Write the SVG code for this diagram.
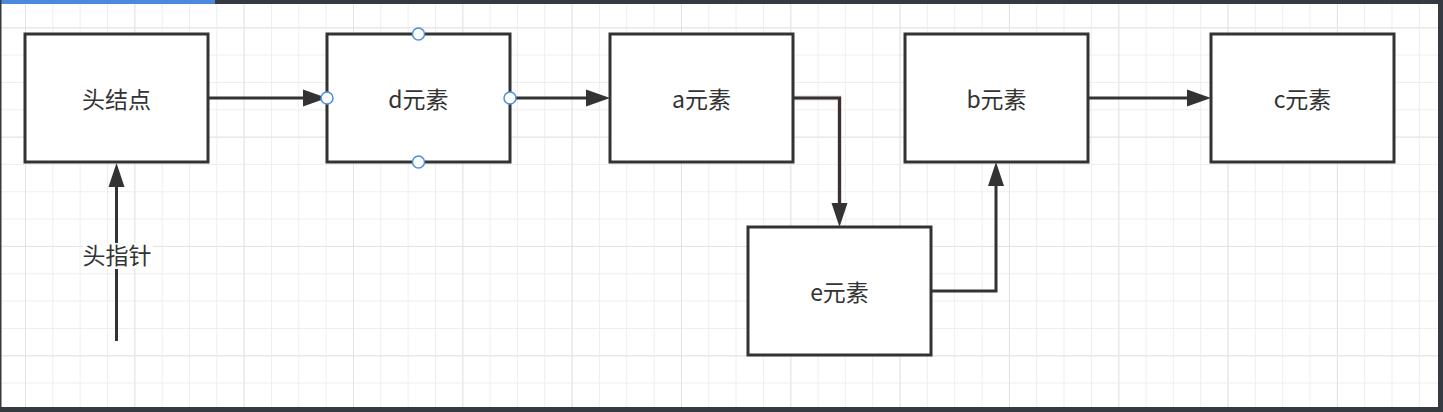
<svg xmlns="http://www.w3.org/2000/svg" width="1443" height="412" viewBox="0 0 1443 412">
<style>
.box{fill:#ffffff;stroke:#333333;stroke-width:3}
.lbl{font-family:"Noto Sans CJK SC","Liberation Sans",sans-serif;font-size:23px;fill:#333333;text-anchor:middle}
.edge{fill:none;stroke:#333333;stroke-width:3}
.head{fill:#333333;stroke:none}
.pt{fill:#ffffff;stroke:#4a90e2;stroke-width:1.5}
</style>
<defs>
<pattern id="grid" x="25" y="27.3" width="27.33" height="27.33" patternUnits="userSpaceOnUse">
<path d="M0.5 0V27.33M0 0.5H27.33" stroke="#eeeeee" stroke-width="1" fill="none"/>
</pattern>
<pattern id="gridM" x="25" y="27.3" width="109.33" height="109.33" patternUnits="userSpaceOnUse">
<path d="M0.5 0V109.33M0 0.5H109.33" stroke="#e4e4e4" stroke-width="1" fill="none"/>
</pattern>
</defs>
<rect x="0" y="0" width="1443" height="412" fill="#ffffff"/>
<rect x="0" y="0" width="1443" height="412" fill="url(#grid)"/>
<rect x="0" y="0" width="1443" height="412" fill="url(#gridM)"/>
<g id="frame">
<rect x="0" y="0" width="1443" height="4" fill="#343a3f"/>
<rect x="0" y="0" width="215" height="4" fill="#4a89dc"/>
<rect x="0" y="0" width="1.5" height="412" fill="#343a3f"/>
<rect x="1438" y="0" width="5" height="412" fill="#343a3f"/>
<rect x="0" y="407" width="1443" height="5" fill="#343a3f"/>
</g>
<g id="connectors">
<path class="edge" d="M208 98H306"/>
<polygon class="head" points="327,98 303,89.5 303,106.5"/>
<path class="edge" d="M510 98H590"/>
<polygon class="head" points="610,98 586,89.5 586,106.5"/>
<path d="M793 98H839.5V205" fill="none" stroke="#d9a0a0" stroke-width="5" stroke-opacity="0.45"/>
<path class="edge" d="M793 98H839.5V205"/>
<polygon class="head" points="839.5,227 831.5,203 847.5,203"/>
<path class="edge" d="M931 291H996V184"/>
<polygon class="head" points="996,162 988,186 1004,186"/>
<path class="edge" d="M1088 98H1190"/>
<polygon class="head" points="1211,98 1187,89.5 1187,106.5"/>
<path class="edge" d="M116.5 341V185"/>
<polygon class="head" points="116.5,163 108.5,187 124.5,187"/>
<rect x="83" y="243" width="70" height="26" fill="#ffffff"/>
<text class="lbl" x="117" y="264">头指针</text>
</g>
<g id="node-head">
<rect class="box" x="25" y="34" width="183" height="128"/>
<text class="lbl" x="116.5" y="108">头结点</text>
</g>
<g id="node-d">
<rect class="box" x="327" y="34" width="183" height="128"/>
<text class="lbl" x="418.5" y="108">d元素</text>
<circle class="pt" cx="418.5" cy="34" r="6"/>
<circle class="pt" cx="418.5" cy="162" r="6"/>
<circle class="pt" cx="327" cy="98" r="6"/>
<circle class="pt" cx="510" cy="98" r="6"/>
</g>
<g id="node-a">
<rect class="box" x="610" y="34" width="183" height="128"/>
<text class="lbl" x="701.5" y="108">a元素</text>
</g>
<g id="node-b">
<rect class="box" x="905" y="34" width="183" height="128"/>
<text class="lbl" x="996.5" y="108">b元素</text>
</g>
<g id="node-c">
<rect class="box" x="1211" y="34" width="183" height="128"/>
<text class="lbl" x="1302.5" y="108">c元素</text>
</g>
<g id="node-e">
<rect class="box" x="748" y="227" width="183" height="128"/>
<text class="lbl" x="839.5" y="301">e元素</text>
</g>
</svg>
